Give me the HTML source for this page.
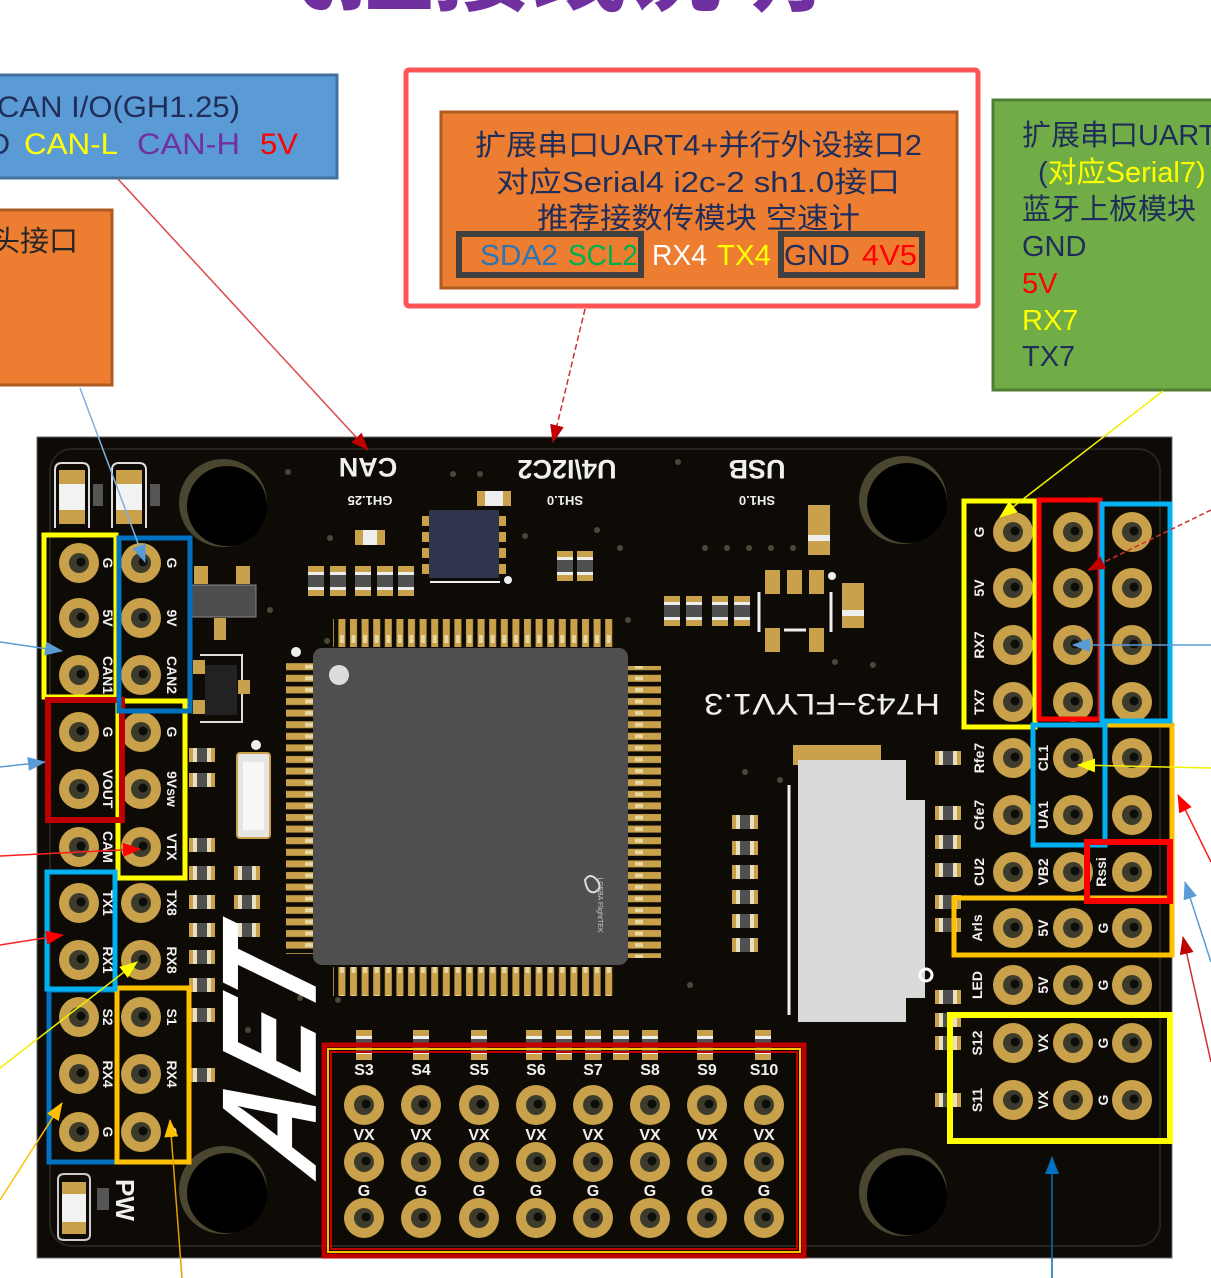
<!DOCTYPE html>
<html><head><meta charset="utf-8"><style>
html,body{margin:0;padding:0;background:#fff;}
svg{display:block;}
text{font-family:"Liberation Sans","Noto Sans CJK SC",sans-serif;}
</style></head><body>
<svg width="1211" height="1278" viewBox="0 0 1211 1278" xmlns="http://www.w3.org/2000/svg">
<defs>
<g id="pad"><circle r="20" fill="#c9a14a"/><circle r="10" fill="#3d3c2c"/><circle cx="2" cy="-1" r="4.5" fill="#0d0d0a"/></g>
<g id="sv"><rect x="-8" y="-15" width="16" height="30" fill="#c9a14a"/><rect x="-8" y="-9" width="16" height="18" fill="#eee"/><rect x="-8" y="-6" width="16" height="12" fill="#505050"/></g>
<g id="sh"><rect x="-13" y="-7" width="26" height="14" fill="#e8e0c0"/><rect x="-5" y="-7" width="10" height="14" fill="#505050"/><rect x="-13" y="-7" width="4" height="14" fill="#c9a14a"/><rect x="9" y="-7" width="4" height="14" fill="#c9a14a"/></g>
<pattern id="pv" width="11.6" height="30" patternUnits="userSpaceOnUse"><rect x="2" y="0" width="7" height="30" fill="#c9a14a"/><rect x="3.5" y="5" width="4" height="8" fill="#e6d6a0"/></pattern>
<pattern id="ph" width="30" height="11.6" patternUnits="userSpaceOnUse"><rect x="0" y="2" width="30" height="7" fill="#c9a14a"/><rect x="5" y="3.5" width="8" height="4" fill="#e6d6a0"/></pattern>
<marker id="mR" markerWidth="18" markerHeight="14" refX="17" refY="7" orient="auto" markerUnits="userSpaceOnUse"><path d="M0,0 L18,7 L0,14 Z" fill="#ff0000"/></marker>
<marker id="mDR" markerWidth="18" markerHeight="14" refX="17" refY="7" orient="auto" markerUnits="userSpaceOnUse"><path d="M0,0 L18,7 L0,14 Z" fill="#c00000"/></marker>
<marker id="mB" markerWidth="18" markerHeight="14" refX="17" refY="7" orient="auto" markerUnits="userSpaceOnUse"><path d="M0,0 L18,7 L0,14 Z" fill="#5b9bd5"/></marker>
<marker id="mDB" markerWidth="18" markerHeight="14" refX="17" refY="7" orient="auto" markerUnits="userSpaceOnUse"><path d="M0,0 L18,7 L0,14 Z" fill="#0070c0"/></marker>
<marker id="mY" markerWidth="18" markerHeight="14" refX="17" refY="7" orient="auto" markerUnits="userSpaceOnUse"><path d="M0,0 L18,7 L0,14 Z" fill="#ffff00"/></marker>
<marker id="mO" markerWidth="18" markerHeight="14" refX="17" refY="7" orient="auto" markerUnits="userSpaceOnUse"><path d="M0,0 L18,7 L0,14 Z" fill="#ffc000"/></marker>
</defs>

<rect width="1211" height="1278" fill="#fff"/>

<!-- title fragment -->
<text x="240" y="3" font-size="100" font-weight="bold" fill="#7030a0" textLength="580" lengthAdjust="spacingAndGlyphs">飞控接线说明</text>

<!-- top-left blue box -->
<rect x="-5" y="75" width="342" height="103" fill="#5b9bd5" stroke="#41719c" stroke-width="3"/>
<text x="-3" y="117" font-size="30" fill="#1f2d5a" textLength="243" lengthAdjust="spacingAndGlyphs">CAN I/O(GH1.25)</text>
<text x="10" y="154" font-size="30" fill="#1f2d5a" text-anchor="end">GND</text>
<text x="24" y="154" font-size="30" fill="#ffff00" textLength="94" lengthAdjust="spacingAndGlyphs">CAN-L</text>
<text x="137" y="154" font-size="30" fill="#7030a0" textLength="103" lengthAdjust="spacingAndGlyphs">CAN-H</text>
<text x="260" y="154" font-size="30" fill="#ff0000" textLength="38" lengthAdjust="spacingAndGlyphs">5V</text>

<!-- left orange box -->
<rect x="-5" y="210" width="117" height="175" fill="#ed7d31" stroke="#ae5a21" stroke-width="3"/>
<text x="78" y="251" font-size="29" fill="#262626" text-anchor="end">摄像头接口</text>

<!-- red outlined box -->
<rect x="406" y="70" width="572" height="236" rx="3" fill="#fff" stroke="#ff5555" stroke-width="5"/>
<rect x="441" y="112" width="516" height="176" fill="#ed7d31" stroke="#ae5a21" stroke-width="3"/>
<text x="475" y="155" font-size="29" fill="#1f2d5a" textLength="447" lengthAdjust="spacingAndGlyphs">扩展串口UART4+并行外设接口2</text>
<text x="496" y="192" font-size="29" fill="#1f2d5a" textLength="404" lengthAdjust="spacingAndGlyphs">对应Serial4  i2c-2  sh1.0接口</text>
<text x="537" y="228" font-size="29" fill="#1f2d5a" textLength="323" lengthAdjust="spacingAndGlyphs">推荐接数传模块  空速计</text>
<rect x="459" y="234" width="182" height="41" fill="#ed7d31" stroke="#404040" stroke-width="6"/>
<rect x="781" y="234" width="141" height="41" fill="#ed7d31" stroke="#404040" stroke-width="6"/>
<text x="480" y="265" font-size="29" fill="#2e75b6" textLength="78" lengthAdjust="spacingAndGlyphs">SDA2</text>
<text x="568" y="265" font-size="29" fill="#00b050" textLength="70" lengthAdjust="spacingAndGlyphs">SCL2</text>
<text x="652" y="265" font-size="29" fill="#ffffff" textLength="55" lengthAdjust="spacingAndGlyphs">RX4</text>
<text x="717" y="265" font-size="29" fill="#ffff00" textLength="54" lengthAdjust="spacingAndGlyphs">TX4</text>
<text x="784" y="265" font-size="29" fill="#1f2d5a" textLength="66" lengthAdjust="spacingAndGlyphs">GND</text>
<text x="862" y="265" font-size="29" fill="#ff0000" textLength="55" lengthAdjust="spacingAndGlyphs">4V5</text>

<!-- green box -->
<rect x="993" y="100" width="225" height="290" fill="#70ad47" stroke="#507e32" stroke-width="3"/>
<text x="1022" y="145" font-size="29" fill="#1f2d5a">扩展串口UART7</text>
<text x="1038" y="182" font-size="29" fill="#1f2d5a">(<tspan fill="#ffff00">对应Serial7)</tspan></text>
<text x="1022" y="219" font-size="29" fill="#1f2d5a">蓝牙上板模块</text>
<text x="1022" y="256" font-size="29" fill="#1f2d5a">GND</text>
<text x="1022" y="293" font-size="29" fill="#ff0000">5V</text>
<text x="1022" y="330" font-size="29" fill="#ffff00">RX7</text>
<text x="1022" y="366" font-size="29" fill="#1f2d5a">TX7</text>

<!-- board -->
<rect x="37" y="437" width="1135" height="821" fill="#0e0b07" stroke="#6a6a6a" stroke-width="1"/>
<rect x="50" y="449" width="1110" height="797" rx="22" fill="none" stroke="#262420" stroke-width="2"/>

<!-- mount holes -->
<circle cx="223" cy="503" r="44" fill="#4a4630"/><circle cx="227" cy="506" r="40" fill="#000"/>
<circle cx="903" cy="500" r="44" fill="#4a4630"/><circle cx="907" cy="503" r="40" fill="#000"/>
<circle cx="223" cy="1190" r="44" fill="#4a4630"/><circle cx="227" cy="1193" r="40" fill="#000"/>
<circle cx="903" cy="1192" r="44" fill="#4a4630"/><circle cx="907" cy="1195" r="40" fill="#000"/>

<!-- vias -->
<g fill="#4a4838">
<circle cx="288" cy="472" r="3"/><circle cx="330" cy="538" r="3"/><circle cx="453" cy="474" r="3"/><circle cx="480" cy="474" r="3"/><circle cx="678" cy="462" r="3"/><circle cx="525" cy="536" r="3"/><circle cx="597" cy="530" r="3"/><circle cx="620" cy="548" r="3"/><circle cx="705" cy="548" r="3"/><circle cx="727" cy="548" r="3"/><circle cx="749" cy="548" r="3"/><circle cx="771" cy="548" r="3"/><circle cx="793" cy="548" r="3"/><circle cx="628" cy="620" r="3"/><circle cx="835" cy="662" r="3"/><circle cx="873" cy="665" r="3"/><circle cx="270" cy="610" r="3"/><circle cx="327" cy="641" r="3"/><circle cx="300" cy="998" r="3"/><circle cx="338" cy="1000" r="3"/><circle cx="690" cy="985" r="3"/><circle cx="745" cy="772" r="3"/><circle cx="780" cy="780" r="3"/><circle cx="248" cy="1030" r="3"/><circle cx="262" cy="1060" r="3"/><circle cx="300" cy="1105" r="3"/>
</g>

<!-- top-left components -->
<path d="M55,528 V470 Q55,463 62,463 H82 Q89,463 89,470 V528" fill="none" stroke="#ddd" stroke-width="2"/>
<rect x="59" y="470" width="26" height="14" fill="#c9a14a"/><rect x="59" y="484" width="26" height="26" fill="#f2f2f2"/><rect x="59" y="510" width="26" height="14" fill="#c9a14a"/>
<rect x="93" y="484" width="10" height="22" fill="#555"/>
<path d="M112,528 V470 Q112,463 119,463 H139 Q146,463 146,470 V528" fill="none" stroke="#ddd" stroke-width="2"/>
<rect x="116" y="470" width="26" height="14" fill="#c9a14a"/><rect x="116" y="484" width="26" height="26" fill="#f2f2f2"/><rect x="116" y="510" width="26" height="14" fill="#c9a14a"/>
<rect x="150" y="484" width="10" height="22" fill="#555"/>

<!-- left regulator area -->
<rect x="194" y="566" width="14" height="18" fill="#c9a14a"/><rect x="236" y="566" width="14" height="18" fill="#c9a14a"/>
<rect x="190" y="585" width="66" height="32" fill="#4d4d4d" stroke="#888" stroke-width="1"/>
<rect x="214" y="618" width="12" height="22" fill="#c9a14a"/>
<path d="M200,655 H242 V722 H200" fill="none" stroke="#ddd" stroke-width="2"/>
<rect x="205" y="665" width="32" height="50" fill="#222"/>
<rect x="193" y="660" width="12" height="14" fill="#c9a14a"/><rect x="193" y="700" width="12" height="14" fill="#c9a14a"/><rect x="238" y="680" width="12" height="14" fill="#c9a14a"/>
<rect x="237" y="753" width="33" height="85" rx="3" fill="#e6e6e6" stroke="#c9a14a" stroke-width="2"/>
<rect x="243" y="762" width="21" height="68" fill="#f8f8f8"/>
<circle cx="256" cy="745" r="5" fill="#eee"/>

<!-- smd components -->
<use href="#sv" x="316" y="581"/><use href="#sv" x="338" y="581"/><use href="#sv" x="363" y="581"/><use href="#sv" x="385" y="581"/><use href="#sv" x="406" y="581"/>
<use href="#sv" x="565" y="566"/><use href="#sv" x="585" y="566"/>
<use href="#sv" x="672" y="611"/><use href="#sv" x="694" y="611"/><use href="#sv" x="720" y="611"/><use href="#sv" x="742" y="611"/>
<rect x="355" y="530" width="30" height="15" fill="#c9a14a"/><rect x="363" y="530" width="14" height="15" fill="#eee"/>
<rect x="477" y="491" width="34" height="15" fill="#c9a14a"/><rect x="485" y="491" width="18" height="15" fill="#eee"/>
<rect x="808" y="505" width="22" height="50" fill="#c9a14a"/><rect x="808" y="535" width="22" height="6" fill="#eee"/>
<rect x="842" y="583" width="22" height="45" fill="#c9a14a"/><rect x="842" y="610" width="22" height="6" fill="#eee"/>
<rect x="765" y="570" width="15" height="24" fill="#c9a14a"/><rect x="787" y="570" width="15" height="24" fill="#c9a14a"/><rect x="809" y="570" width="15" height="24" fill="#c9a14a"/>
<rect x="765" y="628" width="15" height="24" fill="#c9a14a"/><rect x="809" y="628" width="15" height="24" fill="#c9a14a"/>
<path d="M759,592 V632 M831,592 V632 M784,630 H806" stroke="#eee" stroke-width="3" fill="none"/>
<circle cx="832" cy="576" r="4" fill="#eee"/>
<g>
<use href="#sh" x="202" y="755"/><use href="#sh" x="202" y="780"/><use href="#sh" x="202" y="845"/><use href="#sh" x="202" y="873"/><use href="#sh" x="202" y="902"/><use href="#sh" x="202" y="930"/><use href="#sh" x="202" y="957"/><use href="#sh" x="202" y="985"/><use href="#sh" x="202" y="1015"/><use href="#sh" x="202" y="1075"/>
<use href="#sh" x="247" y="873"/><use href="#sh" x="247" y="902"/><use href="#sh" x="247" y="930"/>
<use href="#sh" x="745" y="822"/><use href="#sh" x="745" y="848"/><use href="#sh" x="745" y="872"/><use href="#sh" x="745" y="897"/><use href="#sh" x="745" y="921"/><use href="#sh" x="745" y="945"/>
<use href="#sh" x="948" y="758"/><use href="#sh" x="948" y="813"/><use href="#sh" x="948" y="842"/><use href="#sh" x="948" y="870"/><use href="#sh" x="948" y="902"/><use href="#sh" x="948" y="925"/><use href="#sh" x="948" y="997"/><use href="#sh" x="948" y="1020"/><use href="#sh" x="948" y="1043"/><use href="#sh" x="948" y="1100"/>
</g>
<g>
<use href="#sv" x="364" y="1045"/><use href="#sv" x="421" y="1045"/><use href="#sv" x="479" y="1045"/><use href="#sv" x="534" y="1045"/><use href="#sv" x="564" y="1045"/><use href="#sv" x="593" y="1045"/><use href="#sv" x="621" y="1045"/><use href="#sv" x="650" y="1045"/><use href="#sv" x="705" y="1045"/><use href="#sv" x="763" y="1045"/>
</g>

<!-- small IMU chip -->
<rect x="422" y="516" width="8" height="10" fill="#c9a14a"/><rect x="422" y="532" width="8" height="10" fill="#c9a14a"/><rect x="422" y="548" width="8" height="10" fill="#c9a14a"/><rect x="422" y="564" width="8" height="10" fill="#c9a14a"/>
<rect x="498" y="516" width="8" height="10" fill="#c9a14a"/><rect x="498" y="532" width="8" height="10" fill="#c9a14a"/><rect x="498" y="548" width="8" height="10" fill="#c9a14a"/><rect x="498" y="564" width="8" height="10" fill="#c9a14a"/>
<rect x="429" y="510" width="70" height="68" fill="#30344c"/>
<line x1="430" y1="582" x2="500" y2="582" stroke="#eee" stroke-width="2"/><circle cx="508" cy="580" r="4" fill="#eee"/>

<!-- main MCU -->
<rect x="333" y="619" width="282" height="28" fill="url(#pv)"/>
<rect x="333" y="967" width="282" height="29" fill="url(#pv)"/>
<rect x="286" y="662" width="27" height="292" fill="url(#ph)"/>
<rect x="628" y="666" width="33" height="292" fill="url(#ph)"/>
<rect x="313" y="648" width="315" height="317" rx="9" fill="#4f4f4f"/>
<circle cx="339" cy="675" r="10" fill="#dcdcdc"/>
<circle cx="296" cy="652" r="5" fill="#eee"/>
<text transform="translate(598,905) rotate(90)" font-size="7" fill="#ccc" text-anchor="middle">LCSBA FlightTEK</text>
<path d="M585,880 q5,-8 12,0 q6,8 -2,12 q-8,2 -10,-12z" fill="none" stroke="#ddd" stroke-width="2"/>

<!-- SD holder -->
<rect x="793" y="745" width="88" height="20" fill="#c9a14a"/>
<rect x="798" y="760" width="108" height="262" fill="#d9d9d9"/>
<rect x="903" y="800" width="22" height="198" fill="#d9d9d9"/>
<line x1="789" y1="785" x2="789" y2="1015" stroke="#eee" stroke-width="3"/>
<circle cx="926" cy="975" r="6" fill="none" stroke="#fff" stroke-width="3"/>

<!-- board silkscreen text -->
<g fill="#f0f0f0" font-weight="bold" text-anchor="middle">
<text transform="rotate(180,368,468)" x="368" y="478" font-size="27">CAN</text>
<text transform="rotate(180,370,501)" x="370" y="506" font-size="13">GH1.25</text>
<text transform="rotate(180,567,470)" x="567" y="480" font-size="27">U4\I2C2</text>
<text transform="rotate(180,565,501)" x="565" y="506" font-size="13">SH1.0</text>
<text transform="rotate(180,757,470)" x="757" y="480" font-size="27">USB</text>
<text transform="rotate(180,757,501)" x="757" y="506" font-size="13">SH1.0</text>
<text transform="rotate(180,822,705)" x="822" y="716" font-size="30" font-weight="normal" textLength="236" lengthAdjust="spacingAndGlyphs">H743−FLYV1.3</text>
<text transform="rotate(90,125,1200)" x="125" y="1209" font-size="26">PW</text>
</g>
<text transform="translate(270,1052) rotate(-90) skewX(-18)" font-size="135" font-weight="bold" font-style="italic" fill="#ffffff" text-anchor="middle" dominant-baseline="central" textLength="225" lengthAdjust="spacingAndGlyphs">AET</text>

<!-- PW component -->
<path d="M58,1235 V1180 Q58,1174 64,1174 H84 Q90,1174 90,1180 V1235 Q90,1240 84,1240 H64 Q58,1240 58,1235Z" fill="none" stroke="#ccc" stroke-width="2"/>
<rect x="62" y="1182" width="24" height="12" fill="#c9a14a"/><rect x="62" y="1194" width="24" height="30" fill="#f2f2f2"/><rect x="62" y="1222" width="24" height="12" fill="#c9a14a"/>
<rect x="97" y="1188" width="12" height="22" fill="#555"/>

<!-- left pads -->
<g>
<use href="#pad" x="79" y="563"/><use href="#pad" x="79" y="618"/><use href="#pad" x="79" y="675"/><use href="#pad" x="79" y="732"/><use href="#pad" x="79" y="789"/><use href="#pad" x="79" y="847"/><use href="#pad" x="79" y="903"/><use href="#pad" x="79" y="960"/><use href="#pad" x="79" y="1017"/><use href="#pad" x="79" y="1074"/><use href="#pad" x="79" y="1132"/>
<use href="#pad" x="141" y="563"/><use href="#pad" x="141" y="618"/><use href="#pad" x="141" y="675"/><use href="#pad" x="141" y="732"/><use href="#pad" x="141" y="789"/><use href="#pad" x="141" y="847"/><use href="#pad" x="141" y="903"/><use href="#pad" x="141" y="960"/><use href="#pad" x="141" y="1017"/><use href="#pad" x="141" y="1074"/><use href="#pad" x="141" y="1132"/>
</g>
<g fill="#f0f0f0" font-size="14" font-weight="bold" text-anchor="middle">
<text transform="rotate(90,108,563)" x="108" y="568">G</text>
<text transform="rotate(90,108,618)" x="108" y="623">5V</text>
<text transform="rotate(90,108,675)" x="108" y="680">CAN1</text>
<text transform="rotate(90,108,732)" x="108" y="737">G</text>
<text transform="rotate(90,108,789)" x="108" y="794">VOUT</text>
<text transform="rotate(90,108,847)" x="108" y="852">CAM</text>
<text transform="rotate(90,108,903)" x="108" y="908">TX1</text>
<text transform="rotate(90,108,960)" x="108" y="965">RX1</text>
<text transform="rotate(90,108,1017)" x="108" y="1022">S2</text>
<text transform="rotate(90,108,1074)" x="108" y="1079">RX4</text>
<text transform="rotate(90,108,1132)" x="108" y="1137">G</text>
<text transform="rotate(90,172,563)" x="172" y="568">G</text>
<text transform="rotate(90,172,618)" x="172" y="623">9V</text>
<text transform="rotate(90,172,675)" x="172" y="680">CAN2</text>
<text transform="rotate(90,172,732)" x="172" y="737">G</text>
<text transform="rotate(90,172,789)" x="172" y="794">9Vsw</text>
<text transform="rotate(90,172,847)" x="172" y="852">VTX</text>
<text transform="rotate(90,172,903)" x="172" y="908">TX8</text>
<text transform="rotate(90,172,960)" x="172" y="965">RX8</text>
<text transform="rotate(90,172,1017)" x="172" y="1022">S1</text>
<text transform="rotate(90,172,1074)" x="172" y="1079">RX4</text>
<text transform="rotate(90,172,1132)" x="172" y="1137">G</text>
</g>

<!-- right pads -->
<g>
<use href="#pad" x="1013" y="532"/><use href="#pad" x="1013" y="588"/><use href="#pad" x="1013" y="645"/><use href="#pad" x="1013" y="702"/><use href="#pad" x="1013" y="758"/><use href="#pad" x="1013" y="815"/><use href="#pad" x="1013" y="872"/><use href="#pad" x="1013" y="928"/><use href="#pad" x="1013" y="985"/><use href="#pad" x="1013" y="1043"/><use href="#pad" x="1013" y="1100"/>
<use href="#pad" x="1073" y="532"/><use href="#pad" x="1073" y="588"/><use href="#pad" x="1073" y="645"/><use href="#pad" x="1073" y="702"/><use href="#pad" x="1073" y="758"/><use href="#pad" x="1073" y="815"/><use href="#pad" x="1073" y="872"/><use href="#pad" x="1073" y="928"/><use href="#pad" x="1073" y="985"/><use href="#pad" x="1073" y="1043"/><use href="#pad" x="1073" y="1100"/>
<use href="#pad" x="1132" y="532"/><use href="#pad" x="1132" y="588"/><use href="#pad" x="1132" y="645"/><use href="#pad" x="1132" y="702"/><use href="#pad" x="1132" y="758"/><use href="#pad" x="1132" y="815"/><use href="#pad" x="1132" y="872"/><use href="#pad" x="1132" y="928"/><use href="#pad" x="1132" y="985"/><use href="#pad" x="1132" y="1043"/><use href="#pad" x="1132" y="1100"/>
</g>
<g fill="#f0f0f0" font-size="14" font-weight="bold" text-anchor="middle">
<text transform="rotate(-90,979,532)" x="979" y="537">G</text>
<text transform="rotate(-90,979,588)" x="979" y="593">5V</text>
<text transform="rotate(-90,979,645)" x="979" y="650">RX7</text>
<text transform="rotate(-90,979,702)" x="979" y="707">TX7</text>
<text transform="rotate(-90,979,758)" x="979" y="763">Rfe7</text>
<text transform="rotate(-90,979,815)" x="979" y="820">Cfe7</text>
<text transform="rotate(-90,979,872)" x="979" y="877">CU2</text>
<text transform="rotate(-90,977,928)" x="977" y="933">Arls</text>
<text transform="rotate(-90,977,985)" x="977" y="990">LED</text>
<text transform="rotate(-90,977,1043)" x="977" y="1048">S12</text>
<text transform="rotate(-90,977,1100)" x="977" y="1105">S11</text>
<text transform="rotate(-90,1043,758)" x="1043" y="763">CL1</text>
<text transform="rotate(-90,1043,815)" x="1043" y="820">UA1</text>
<text transform="rotate(-90,1043,872)" x="1043" y="877">VB2</text>
<text transform="rotate(-90,1043,928)" x="1043" y="933">5V</text>
<text transform="rotate(-90,1043,985)" x="1043" y="990">5V</text>
<text transform="rotate(-90,1043,1043)" x="1043" y="1048">VX</text>
<text transform="rotate(-90,1043,1100)" x="1043" y="1105">VX</text>
<text transform="rotate(-90,1101,872)" x="1101" y="877">Rssi</text>
<text transform="rotate(-90,1103,928)" x="1103" y="933">G</text>
<text transform="rotate(-90,1103,985)" x="1103" y="990">G</text>
<text transform="rotate(-90,1103,1043)" x="1103" y="1048">G</text>
<text transform="rotate(-90,1103,1100)" x="1103" y="1105">G</text>
</g>

<!-- bottom grid -->
<g>
<use href="#pad" x="364" y="1105"/><use href="#pad" x="421" y="1105"/><use href="#pad" x="479" y="1105"/><use href="#pad" x="536" y="1105"/><use href="#pad" x="593" y="1105"/><use href="#pad" x="650" y="1105"/><use href="#pad" x="707" y="1105"/><use href="#pad" x="764" y="1105"/>
<use href="#pad" x="364" y="1162"/><use href="#pad" x="421" y="1162"/><use href="#pad" x="479" y="1162"/><use href="#pad" x="536" y="1162"/><use href="#pad" x="593" y="1162"/><use href="#pad" x="650" y="1162"/><use href="#pad" x="707" y="1162"/><use href="#pad" x="764" y="1162"/>
<use href="#pad" x="364" y="1218"/><use href="#pad" x="421" y="1218"/><use href="#pad" x="479" y="1218"/><use href="#pad" x="536" y="1218"/><use href="#pad" x="593" y="1218"/><use href="#pad" x="650" y="1218"/><use href="#pad" x="707" y="1218"/><use href="#pad" x="764" y="1218"/>
</g>
<g fill="#f0f0f0" font-size="16" font-weight="bold" text-anchor="middle">
<text x="364" y="1075">S3</text><text x="421" y="1075">S4</text><text x="479" y="1075">S5</text><text x="536" y="1075">S6</text><text x="593" y="1075">S7</text><text x="650" y="1075">S8</text><text x="707" y="1075">S9</text><text x="764" y="1075">S10</text>
<text x="364" y="1140">VX</text><text x="421" y="1140">VX</text><text x="479" y="1140">VX</text><text x="536" y="1140">VX</text><text x="593" y="1140">VX</text><text x="650" y="1140">VX</text><text x="707" y="1140">VX</text><text x="764" y="1140">VX</text>
<text x="364" y="1196">G</text><text x="421" y="1196">G</text><text x="479" y="1196">G</text><text x="536" y="1196">G</text><text x="593" y="1196">G</text><text x="650" y="1196">G</text><text x="707" y="1196">G</text><text x="764" y="1196">G</text>
</g>

<!-- colored boxes left -->
<g fill="none">
<rect x="118" y="701" width="67" height="177" stroke="#ffff00" stroke-width="5"/>
<rect x="44" y="535" width="72" height="162" stroke="#ffff00" stroke-width="5"/>
<rect x="48" y="700" width="74" height="120" stroke="#c00000" stroke-width="6"/>
<rect x="119" y="538" width="71" height="173" stroke="#0070c0" stroke-width="5"/>
<rect x="49" y="990" width="68" height="172" stroke="#0070c0" stroke-width="5"/>
<rect x="117" y="988" width="72" height="174" stroke="#ffc000" stroke-width="5"/>
<rect x="47" y="872" width="68" height="117" stroke="#00b0f0" stroke-width="5"/>
</g>
<!-- colored boxes right -->
<g fill="none">
<path d="M1105,725 H1172 V957" stroke="#ffc000" stroke-width="5"/>
<rect x="954" y="898" width="218" height="57" stroke="#ffc000" stroke-width="5"/>
<rect x="964" y="501" width="71" height="226" stroke="#ffff00" stroke-width="5"/>
<rect x="1039" y="500" width="61" height="219" stroke="#ff0000" stroke-width="5"/>
<rect x="1102" y="504" width="68" height="217" stroke="#00b0f0" stroke-width="5"/>
<rect x="1033" y="725" width="72" height="120" stroke="#00b0f0" stroke-width="5"/>
<rect x="1087" y="842" width="83" height="59" stroke="#ff0000" stroke-width="6"/>
<rect x="950" y="1015" width="220" height="126" stroke="#ffff00" stroke-width="6"/>
</g>
<!-- bottom red box -->
<rect x="324" y="1045" width="480" height="211" fill="none" stroke="#c00000" stroke-width="5"/>
<rect x="328" y="1049" width="472" height="203" fill="none" stroke="#ffc000" stroke-width="2"/>
<rect x="331" y="1052" width="466" height="197" fill="none" stroke="#c00000" stroke-width="2"/>

<!-- connectors -->
<g fill="none" stroke-width="1.5">
<line x1="118" y1="179" x2="368" y2="450" stroke="#e04848" marker-end="url(#mDR)"/>
<line x1="585" y1="309" x2="553" y2="442" stroke="#d03030" stroke-dasharray="6,3" marker-end="url(#mDR)"/>
<line x1="80" y1="388" x2="145" y2="562" stroke="#7fb0e0" marker-end="url(#mB)"/>
<line x1="0" y1="642" x2="62" y2="651" stroke="#5b9bd5" marker-end="url(#mB)"/>
<line x1="0" y1="767" x2="45" y2="762" stroke="#5b9bd5" marker-end="url(#mB)"/>
<line x1="0" y1="856" x2="140" y2="849" stroke="#ff2020" marker-end="url(#mR)"/>
<line x1="0" y1="945" x2="63" y2="935" stroke="#ff2020" marker-end="url(#mR)"/>
<line x1="0" y1="1068" x2="137" y2="962" stroke="#f0f000" marker-end="url(#mY)"/>
<line x1="0" y1="1200" x2="62" y2="1103" stroke="#ffc000" marker-end="url(#mO)"/>
<line x1="182" y1="1278" x2="170" y2="1120" stroke="#e0a000" marker-end="url(#mO)"/>
<line x1="1163" y1="391" x2="1000" y2="517" stroke="#f0f000" marker-end="url(#mY)"/>
<line x1="1211" y1="510" x2="1088" y2="570" stroke="#d03030" stroke-dasharray="5,3" marker-end="url(#mDR)"/>
<line x1="1211" y1="645" x2="1073" y2="645" stroke="#5b9bd5" marker-end="url(#mB)"/>
<line x1="1211" y1="768" x2="1078" y2="765" stroke="#f0f000" marker-end="url(#mY)"/>
<line x1="1211" y1="862" x2="1178" y2="795" stroke="#ff2020" marker-end="url(#mR)"/>
<line x1="1211" y1="962" x2="1185" y2="882" stroke="#5b9bd5" marker-end="url(#mB)"/>
<line x1="1211" y1="1062" x2="1183" y2="937" stroke="#d03030" marker-end="url(#mDR)"/>
<line x1="1052" y1="1278" x2="1052" y2="1157" stroke="#0070c0" marker-end="url(#mDB)"/>
</g>
</svg>
</body></html>
